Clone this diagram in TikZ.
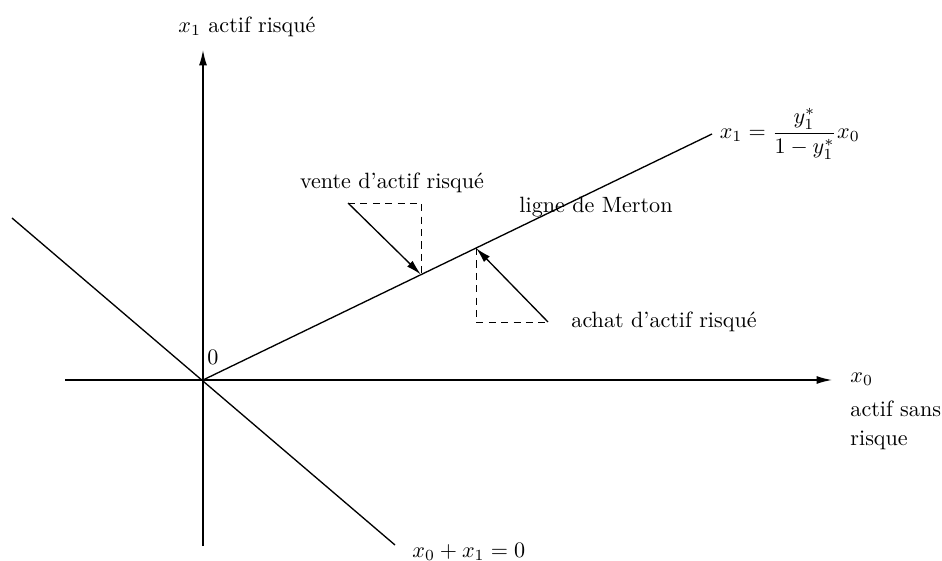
\documentclass[tikz,border=0pt]{standalone}
\usepackage{amsmath}
\usepackage{tikz}
\usetikzlibrary{positioning}
\usetikzlibrary{calc}
\usetikzlibrary{arrows.meta}
\tikzset{
axis_line/.style={line width=0.6pt, -{Latex[length=7pt,width=3.6pt]}},
plain_line/.style={line width=0.6pt},
trade_arrow/.style={line width=0.6pt, -{Latex[length=7pt,width=3.6pt]}},
guide/.style={line width=0.4pt, dashed, dash pattern=on 3.2pt off 2.4pt},
label_text/.style={inner sep=0pt, text=black}
}

\begin{document}
\begin{tikzpicture}[x=0.452pt, y=-0.452pt]
    \useasboundingbox (0,0) rectangle (942,561);

    % axes
    \coordinate (O) at (203,380);
    \coordinate (x_start) at (65,380);
    \coordinate (x_end) at (832,380);
    \coordinate (y_start) at (203,546);
    \coordinate (y_end) at (203,50);
    \draw[axis_line] (x_start) -- (x_end);
    \draw[axis_line] (y_start) -- (y_end);

    \node[label_text, anchor=west] (x1_label) at (178,27) {$x_1$ actif risqué};
    \node[label_text, anchor=west] (x0_label) at (850,379) {$x_0$};
    \node[label_text, anchor=west] (sans_label) at (850,409) {actif sans};
    \node[label_text, anchor=west] (risque_label) at (850,440) {risque};
    \node[label_text] (zero_label) at (213,357) {$0$};

    % droite x0+x1=0
    \coordinate (anti_start) at (12,218);
    \coordinate (anti_end) at (395,545);
    \draw[plain_line] (anti_start) -- (anti_end);
    \node[label_text, anchor=west] (anti_label) at (412,552) {$x_0+x_1=0$};

    % ligne de Merton
    \coordinate (merton_end) at (712,134);
    \draw[plain_line] (O) -- (merton_end);
    \node[anchor=west] (merton_formula) at (merton_end) {$x_1=\dfrac{y_1^*}{1-y_1^*}x_0$};
    \node[label_text] (merton_label) at (596,207) {ligne de Merton};

    % vente
    \coordinate (vente_pt) at ($(O)!0.4283!(merton_end)$);
    \coordinate (vente_start) at (348,203);
    \draw[guide] (vente_start) -| (vente_pt);
    \draw[trade_arrow] (vente_start) -- (vente_pt);
    \node[label_text] (vente_label) at (392,183) {vente d'actif risqué};

    % achat
    \coordinate (achat_pt) at ($(O)!0.5363!(merton_end)$);
    \coordinate (achat_start) at (548,322);
    \draw[guide] (achat_pt) |- (achat_start);
    \draw[trade_arrow] (achat_start) -- (achat_pt);
    \node[label_text, anchor=west] (achat_label) [right=23 of achat_start] {achat d'actif risqué};
\end{tikzpicture}
\end{document}
